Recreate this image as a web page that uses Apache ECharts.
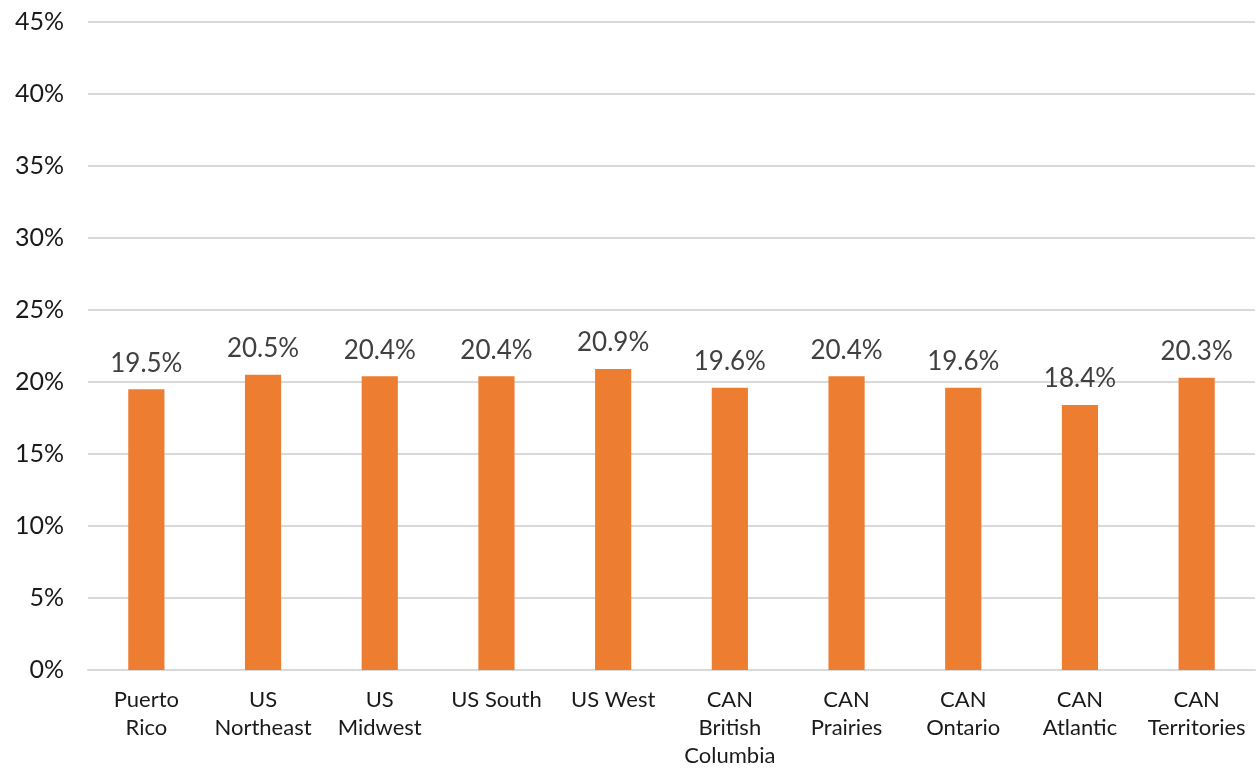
<!DOCTYPE html>
<html>
<head>
<meta charset="utf-8">
<script src="https://cdn.jsdelivr.net/npm/echarts@6/dist/echarts.min.js"></script>
<style>
  html, body { margin: 0; padding: 0; background: #fff; }
  #chart { width: 1258px; height: 770px; }
</style>
</head>
<body>
<div id="chart"></div>
<script>
// regions along the x axis
const categories = [
  "Puerto\nRico", "US\nNortheast", "US\nMidwest", "US South", "US West",
  "CAN\nBritish\nColumbia", "CAN\nPrairies", "CAN\nOntario", "CAN\nAtlantic", "CAN\nTerritories"
];
// share, in percent
const values = [19.5, 20.5, 20.4, 20.4, 20.9, 19.6, 20.4, 19.6, 18.4, 20.3];
const yMin = 0;
const yMax = 45;
const yStep = 5;

const FONT = "Lato, 'Open Sans', sans-serif";
const chart = echarts.init(document.getElementById("chart"));

const option = {
  animation: false,
  grid: { left: 88, right: 3, top: 22, bottom: 99, containLabel: false },
  xAxis: {
    type: "category",
    data: categories,
    axisTick: { show: false },
    axisLine: { lineStyle: { color: "#d9d9d9", width: 2 } },
    axisLabel: {
      interval: 0,
      margin: 16,
      color: "#1a1a1a",
      fontFamily: FONT,
      fontSize: 22,
      lineHeight: 28
    }
  },
  yAxis: {
    type: "value",
    min: yMin,
    max: yMax,
    interval: yStep,
    axisLine: { show: false },
    axisTick: { show: false },
    splitLine: { lineStyle: { color: "#d9d9d9", width: 2 } },
    axisLabel: {
      margin: 24,
      color: "#1a1a1a",
      fontFamily: FONT,
      fontSize: 25,
      formatter: "{value}%"
    }
  },
  series: [
    {
      type: "bar",
      data: values,
      barWidth: "31%",
      itemStyle: { color: "#ed7d31" },
      label: {
        show: true,
        position: "top",
        distance: 13,
        color: "#404040",
        fontFamily: FONT,
        fontSize: 26,
        formatter: (p) => p.value.toFixed(1) + "%"
      }
    }
  ]
};

chart.setOption(option);
window.addEventListener("resize", () => chart.resize());
</script>
</body>
</html>
